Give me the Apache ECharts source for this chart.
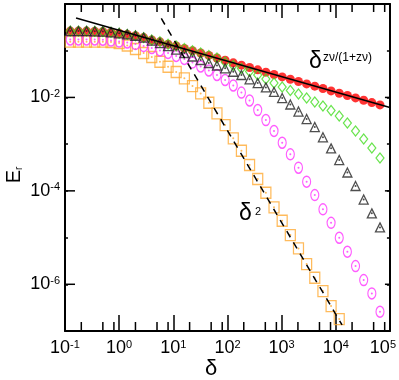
<!DOCTYPE html>
<html>
<head>
<meta charset="utf-8">
<script src="https://cdn.jsdelivr.net/npm/echarts@6/dist/echarts.min.js"></script>
<style>
html,body{margin:0;padding:0;background:#fff}
#chart{width:399px;height:380px}
</style>
</head>
<body>
<div id="chart"></div>
<script>
// delta values (x), step sqrt(2)
var delta = [0.125,0.177,0.25,0.354,0.5,0.707,1,1.41,2,2.83,4,5.66,8,11.3,16,22.6,32,45.3,64,90.5,
  128,181,256,362,512,724,1024,1448,2048,2896,4096,5793,8192,11585,16384,23170,32768,46341,65536];

// E_r
var red = [0.263,0.263,0.263,0.260,0.257,0.248,0.236,0.224,0.209,0.191,0.170,0.155,0.138,0.126,0.112,0.100,
  0.0891,0.0794,0.0700,0.0624,0.0550,0.0490,0.0437,0.0389,0.0347,0.0309,0.0275,0.0245,0.0219,0.0195,
  0.0174,0.0155,0.0138,0.0123,0.0110,0.00977,0.00871,0.00776,0.00692];
var green = [0.263,0.263,0.263,0.260,0.257,0.248,0.236,0.224,0.209,0.191,0.170,0.155,0.138,0.126,0.112,0.100,
  0.0891,0.0794,0.0700,0.0573,0.0482,0.0416,0.0359,0.0302,0.0248,0.0203,0.0167,0.0141,0.0118,0.00971,
  0.00797,0.00655,0.00525,0.00400,0.00283,0.00191,0.00129,0.000824,0.000504];
var triangle = [0.263,0.263,0.263,0.260,0.257,0.248,0.236,0.224,0.209,0.191,0.165,0.146,0.126,0.106,0.0893,
  0.0752,0.0632,0.0546,0.0482,0.0420,0.0355,0.0302,0.0244,0.0203,0.0164,0.0131,0.00971,0.00705,0.00499,
  0.00344,0.00232,0.00140,0.000813,0.000457,0.000247,0.000127,6.52e-5,3.30e-5,1.65e-5];
var magenta = [0.174,0.174,0.174,0.174,0.172,0.165,0.157,0.150,0.139,0.126,0.114,0.101,0.0893,0.0771,0.0664,
  0.0558,0.0459,0.0377,0.0302,0.0236,0.0180,0.0127,0.00859,0.00537,0.00328,0.00191,0.00107,0.000605,
  0.000313,0.000157,8.13e-5,4.02e-5,2.07e-5,9.91e-6,4.97e-6,2.45e-6,1.23e-6,6.38e-7,2.58e-7];
var orange = [0.156,0.156,0.156,0.156,0.156,0.154,0.146,0.129,0.109,0.0893,0.0733,0.0581,0.0454,0.0350,0.0256,
  0.0175,0.0122,0.00771,0.00457,0.00256,0.00133,0.000723,0.000357,0.000179,9.10e-5,4.44e-5,2.29e-5,
  1.13e-5,5.87e-6,2.71e-6,1.38e-6,7.15e-7,3.41e-7,1.80e-7];

// guide lines: delta^(-zv/(1+zv)) and delta^-2
var lineFit = [[0.16, 0.50], [100000, 0.00607]];
var lineSq = [[6.0, 0.49], [13060, 1.35e-7]];

// axis ticks
var xMinorTicks = [0.2,0.5,0.8,2,5,8,20,50,80,200,500,800,2000,5000,8000,20000,50000,80000];
var yMajorTicks = [1e-6,1e-4,1e-2];

var X_MIN = 0.1, X_MAX = 100000, Y_MIN = 1e-7, Y_MAX = 1;
var FONT = 'Liberation Sans';

function pairs(ys) {
  return ys.map(function (y, i) { return [delta[i], y]; });
}
function expOf(v) { return Math.round(Math.log10(v)); }

var labelRich = {
  b: {fontSize: 18, fontFamily: FONT, color: '#000'},
  s: {fontSize: 11, fontFamily: FONT, color: '#000', verticalAlign: 'top'},
  s5: {fontSize: 11, fontFamily: FONT, color: '#000', verticalAlign: 'top', padding: [0, 14, 0, 0]}
};

var myChart = echarts.init(document.getElementById('chart'));
myChart.setOption({
  animation: false,
  backgroundColor: '#fff',
  grid: {left: 65, top: 4, width: 325, height: 327},
  xAxis: [
    {
      type: 'log', min: X_MIN, max: X_MAX, position: 'bottom',
      axisLine: {lineStyle: {color: '#000', width: 2}},
      axisTick: {inside: true, length: 16, lineStyle: {color: '#000', width: 1.5}},
      splitLine: {show: false},
      axisLabel: {
        margin: 8, rich: labelRich,
        formatter: function (v) {
          var e = expOf(v);
          return e === 5 ? '{b|10}{s5|5}' : '{b|10}{s|' + e + '}';
        }
      }
    },
    {
      type: 'log', min: X_MIN, max: X_MAX, position: 'top',
      axisLine: {lineStyle: {color: '#000', width: 2}},
      axisTick: {inside: true, length: 14, lineStyle: {color: '#000', width: 1.5}},
      splitLine: {show: false},
      axisLabel: {show: false}
    }
  ],
  yAxis: [
    {
      type: 'log', min: Y_MIN, max: Y_MAX, position: 'left',
      axisLine: {lineStyle: {color: '#000', width: 2}},
      axisTick: {inside: true, length: 3, lineStyle: {color: '#000', width: 1.5}},
      splitLine: {show: false},
      axisLabel: {
        margin: 5, rich: labelRich,
        formatter: function (v) {
          var e = expOf(v);
          if (e % 2 !== 0 || e === 0) return '';
          return '{b|10}{s|' + e + '}';
        }
      }
    },
    {
      type: 'log', min: Y_MIN, max: Y_MAX, position: 'right',
      axisLine: {lineStyle: {color: '#000', width: 2}},
      axisTick: {inside: true, length: 3, lineStyle: {color: '#000', width: 1.5}},
      splitLine: {show: false},
      axisLabel: {show: false}
    }
  ],
  series: [
    {
      name: 'orange', type: 'scatter', data: pairs(orange),
      symbol: 'rect', symbolSize: [10, 11],
      itemStyle: {color: 'rgba(0,0,0,0)', borderColor: '#ffaa33', borderWidth: 1.3}
    },
    {
      type: 'scatter', data: pairs(orange), symbol: 'circle', symbolSize: 2,
      itemStyle: {color: '#ffaa33'}
    },
    {
      name: 'magenta', type: 'scatter', data: pairs(magenta),
      symbol: 'circle', symbolSize: [8, 11],
      itemStyle: {color: 'rgba(0,0,0,0)', borderColor: '#ff33ff', borderWidth: 1.3}
    },
    {
      type: 'scatter', data: pairs(magenta), symbol: 'circle', symbolSize: 2,
      itemStyle: {color: '#ff33ff'}
    },
    {
      name: 'red', type: 'scatter', data: pairs(red),
      symbol: 'circle', symbolSize: 9,
      itemStyle: {color: '#ff0000'}
    },
    {
      name: 'green', type: 'scatter', data: pairs(green),
      symbol: 'diamond', symbolSize: [8, 10],
      itemStyle: {color: 'rgba(0,0,0,0)', borderColor: '#44dd22', borderWidth: 1.2}
    },
    {
      name: 'triangle', type: 'scatter', data: pairs(triangle),
      symbol: 'triangle', symbolSize: 9,
      itemStyle: {color: 'rgba(0,0,0,0)', borderColor: '#222', borderWidth: 1.3}
    },
    {
      type: 'scatter', data: pairs(triangle), symbol: 'circle', symbolSize: 2,
      itemStyle: {color: '#222'}
    },
    {
      type: 'line', data: lineSq, symbol: 'none',
      lineStyle: {color: '#000', width: 1.5, type: [7, 6]}
    },
    {
      type: 'line', data: lineFit, symbol: 'none',
      lineStyle: {color: '#000', width: 1.5}
    },
    {
      // minor ticks on bottom/top x axes at 2, 5, 8
      type: 'custom', silent: true,
      data: xMinorTicks.map(function (v) { return [v, 1e-3]; }),
      renderItem: function (params, api) {
        var v = api.value(0);
        var b = api.coord([v, Y_MIN]);
        var t = api.coord([v, Y_MAX]);
        var st = {stroke: '#000', lineWidth: 1.5};
        return {type: 'group', children: [
          {type: 'line', shape: {x1: b[0], y1: b[1], x2: b[0], y2: b[1] - 9}, style: st},
          {type: 'line', shape: {x1: t[0], y1: t[1], x2: t[0], y2: t[1] + 8}, style: st}
        ]};
      }
    },
    {
      // long ticks on left/right y axes at even decades
      type: 'custom', silent: true,
      data: yMajorTicks.map(function (v) { return [1, v]; }),
      renderItem: function (params, api) {
        var v = api.value(1);
        var l = api.coord([X_MIN, v]);
        var r = api.coord([X_MAX, v]);
        var st = {stroke: '#000', lineWidth: 1.5};
        return {type: 'group', children: [
          {type: 'line', shape: {x1: l[0], y1: l[1], x2: l[0] + 10, y2: l[1]}, style: st},
          {type: 'line', shape: {x1: r[0], y1: r[1], x2: r[0] - 5, y2: r[1]}, style: st}
        ]};
      }
    }
  ],
  graphic: [
    {type: 'text', x: 211, y: 369, style: {text: 'δ', font: '22px ' + FONT, fill: '#000', textAlign: 'center', textVerticalAlign: 'middle'}},
    {type: 'text', x: 14, y: 175, rotation: Math.PI / 2,
      style: {text: '{e|E}{r|r}', fill: '#000', textAlign: 'center', textVerticalAlign: 'middle',
        rich: {e: {fontSize: 20, fontFamily: FONT}, r: {fontSize: 10, fontFamily: FONT, verticalAlign: 'bottom'}}}},
    {type: 'text', x: 309, y: 62, style: {text: 'δ', font: '23px ' + FONT, fill: '#000', textAlign: 'left', textVerticalAlign: 'middle'}},
    {type: 'text', x: 323, y: 58, style: {text: 'zν/(1+zν)', font: '12px ' + FONT, fill: '#000', textAlign: 'left', textVerticalAlign: 'middle'}},
    {type: 'text', x: 239, y: 214, style: {text: 'δ', font: '23px ' + FONT, fill: '#000', textAlign: 'left', textVerticalAlign: 'middle'}},
    {type: 'text', x: 255, y: 212, style: {text: '2', font: '11px ' + FONT, fill: '#000', textAlign: 'left', textVerticalAlign: 'middle'}}
  ]
});
</script>
</body>
</html>
